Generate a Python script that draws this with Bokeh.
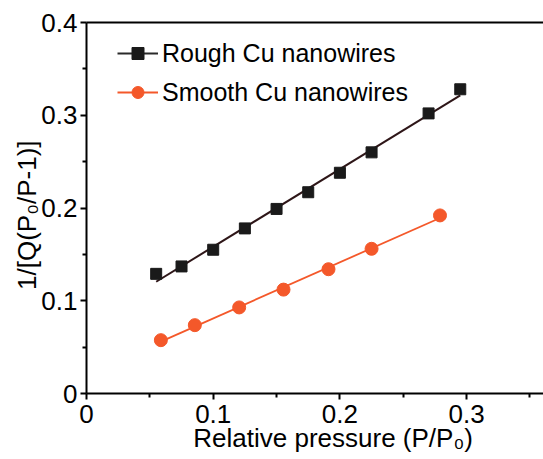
import numpy as np
from bokeh.plotting import figure
from bokeh.models import Range1d, LinearAxis, Legend, LegendItem, FixedTicker
from bokeh.embed import file_html
from bokeh.resources import INLINE

# Data
rough_x = [0.055, 0.075, 0.100, 0.125, 0.150, 0.175, 0.200, 0.225, 0.270, 0.295]
rough_y = [0.129, 0.137, 0.155, 0.178, 0.199, 0.217, 0.238, 0.260, 0.302, 0.328]
smooth_x = [0.0587, 0.0855, 0.1205, 0.1555, 0.191, 0.225, 0.279]
smooth_y = [0.0575, 0.0737, 0.0928, 0.112, 0.134, 0.156, 0.192]
x_ticks = [0, 0.1, 0.2, 0.3]
y_ticks = [0, 0.1, 0.2, 0.3, 0.4]
minor = [0.05, 0.15, 0.25, 0.35]
series_names = ["Rough Cu nanowires", "Smooth Cu nanowires"]
x_title = "Relative pressure (P/P\u2080)"
y_title = "1/[Q(P\u2080/P-1)]"

FONT = "Liberation Sans"
BLACK = "#1a1a1a"
FIT_DARK = "#2e1618"
ORANGE = "#f4582a"
NBSP = "\u00a0"

p = figure(width=543, height=459, output_backend="svg", toolbar_location=None,
           x_range=Range1d(0, 0.3607), y_range=Range1d(0, 0.4),
           min_border_left=86, min_border_right=0, min_border_top=22, min_border_bottom=66)
p.background_fill_color = "white"
p.border_fill_color = "white"
p.outline_line_color = None
p.grid.visible = False

# fits
rc = np.polyfit(rough_x, rough_y, 1)
sc = np.polyfit(smooth_x, smooth_y, 1)
rfx = np.array([rough_x[0], rough_x[-1]])
sfx = np.array([smooth_x[0], smooth_x[-1]])
p.line(rfx, np.polyval(rc, rfx), line_color=FIT_DARK, line_width=2)
p.line(sfx, np.polyval(sc, sfx), line_color=ORANGE, line_width=1.8)

p.scatter(rough_x, rough_y, marker="square", size=11, fill_color=BLACK, line_color=BLACK)
p.scatter(smooth_x, smooth_y, marker="circle", size=13, fill_color=ORANGE, line_color=ORANGE)

# legend proxies (line + marker)
lg1 = p.line([0.1], [0.2], line_color="#2a2a2a", line_width=2, visible=False)
lg2 = p.line([0.1], [0.1], line_color=ORANGE, line_width=2, visible=False)
lm1 = p.scatter([0.1], [0.2], marker="square", size=11, fill_color=BLACK, line_color=BLACK, visible=False)
lm2 = p.scatter([0.1], [0.1], marker="circle", size=13, fill_color=ORANGE, line_color=ORANGE, visible=False)

legend = Legend(items=[LegendItem(label=series_names[0], renderers=[lg1, lm1]),
                       LegendItem(label=series_names[1], renderers=[lg2, lm2])],
                location=(31, 286), orientation="vertical",
                border_line_color=None, background_fill_alpha=0,
                label_text_font=FONT, label_text_font_size="25px", label_text_color="black",
                glyph_width=41, glyph_height=30, label_height=30, label_standoff=4,
                spacing=9, padding=0, margin=0)
p.add_layout(legend)

for ax in [p.xaxis[0], p.yaxis[0]]:
    ax.axis_line_width = 2
    ax.axis_line_color = "black"
    ax.major_tick_line_width = 2
    ax.minor_tick_line_width = 2
    ax.major_tick_in = 0
    ax.minor_tick_in = 0
    ax.major_tick_out = 6
    ax.minor_tick_out = 4
    ax.major_label_text_font = FONT
    ax.major_label_text_font_size = "26px"
    ax.major_label_text_color = "black"
    ax.axis_label_text_font = FONT
    ax.axis_label_text_font_size = "26px"
    ax.axis_label_text_font_style = "normal"
    ax.axis_label_text_color = "black"

p.xaxis.ticker = FixedTicker(ticks=x_ticks, minor_ticks=minor)
p.yaxis.ticker = FixedTicker(ticks=y_ticks, minor_ticks=minor)
p.xaxis.major_label_overrides = {0: "0"}
p.yaxis.major_label_overrides = {0: "0"}
# the original frame continues past the cropped right edge, so the x title
# sits right of the visible frame centre; padded with no-break spaces
p.xaxis.axis_label = NBSP * 5 + x_title
p.yaxis.axis_label = y_title + NBSP * 2
p.xaxis.major_label_standoff = 5
p.yaxis.major_label_standoff = 3
p.xaxis.axis_label_standoff = -3
p.yaxis.axis_label_standoff = -4

top = LinearAxis(ticker=FixedTicker(ticks=[], minor_ticks=[]),
                 axis_line_width=2, axis_line_color="black",
                 major_tick_line_color=None, minor_tick_line_color=None,
                 major_label_standoff=0, major_tick_out=0, minor_tick_out=0)
p.add_layout(top, "above")

open("out.html", "w").write(file_html(p, INLINE))
